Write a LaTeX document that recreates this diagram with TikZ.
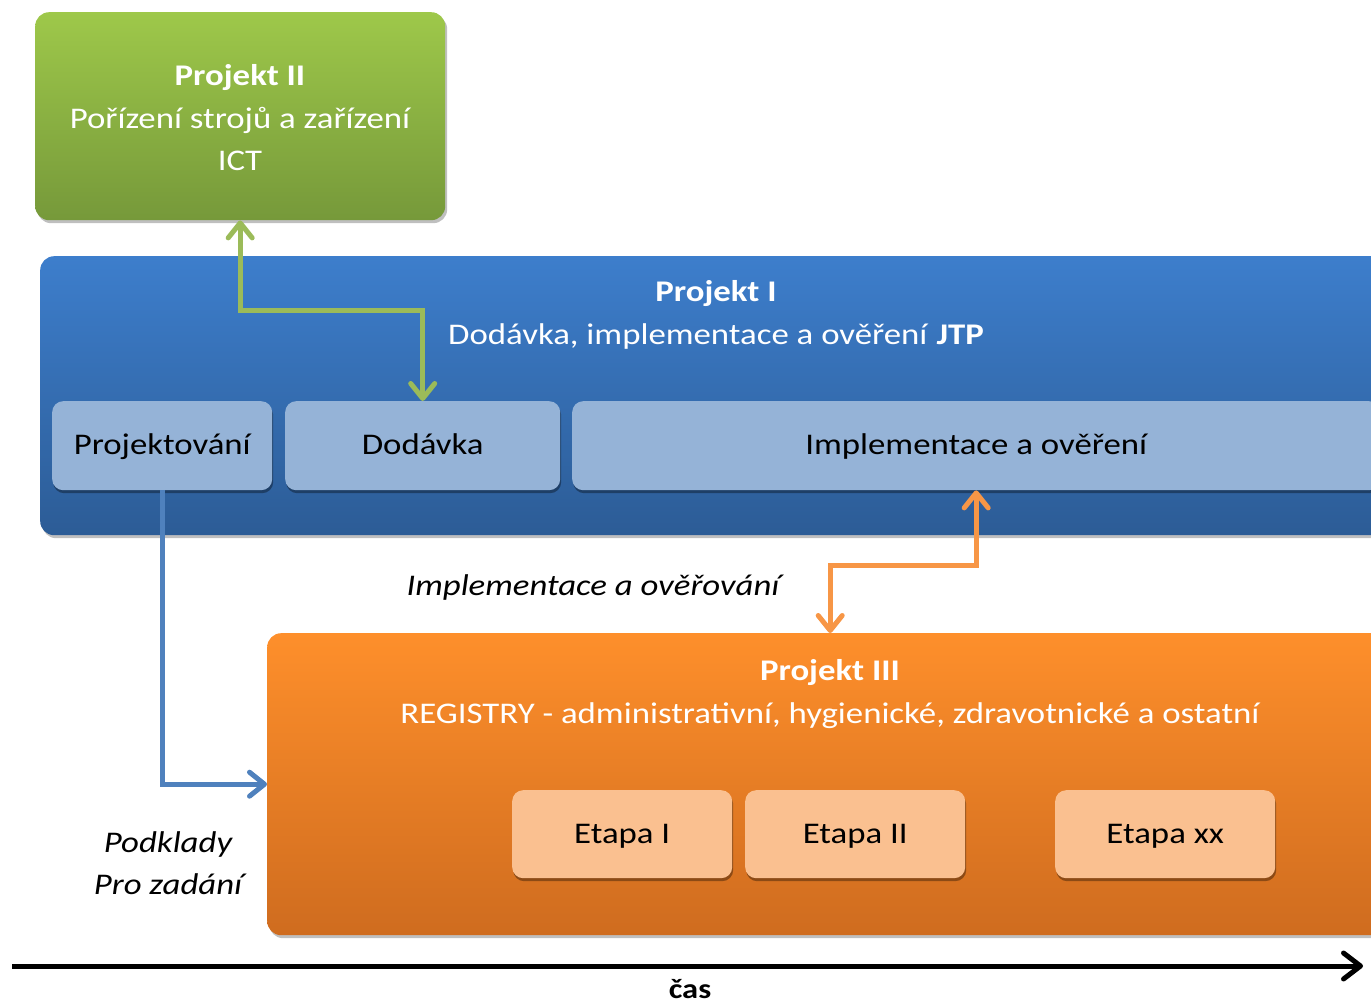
\documentclass[tikz,border=0pt]{standalone}
\usepackage{fontspec}
\setmainfont{Carlito}[FakeStretch=1.16]
\usetikzlibrary{arrows.meta,shadows}
\definecolor{grnT}{HTML}{9EC84A}
\definecolor{grnB}{HTML}{76993A}
\definecolor{bluT}{HTML}{3D7ECC}
\definecolor{bluB}{HTML}{2C5C96}
\definecolor{lblu}{HTML}{95B3D7}
\definecolor{orT}{HTML}{FE8F2B}
\definecolor{orB}{HTML}{CF6C1F}
\definecolor{lor}{HTML}{FAC090}
\definecolor{grnA}{HTML}{9BBB59}
\definecolor{orA}{HTML}{F79646}
\definecolor{bluA}{HTML}{4F81BD}
\begin{document}
\begin{tikzpicture}[x=1pt,y=-1pt,
  box/.style={rectangle, rounded corners=14pt, anchor=north west, inner sep=0pt,
    drop shadow={shadow xshift=2pt, shadow yshift=-3pt, opacity=0.25, fill=black}},
  sub/.style={rectangle, rounded corners=11pt, anchor=north west, inner sep=0pt,
    minimum height=89pt, text height=22pt, text depth=4pt, text=black, font=\fontsize{30}{36}\selectfont,
    drop shadow={shadow xshift=1pt, shadow yshift=-3pt, opacity=0.35, fill=black}},
  title/.style={align=center, text=white, font=\fontsize{30}{42.5}\selectfont},
  lbl/.style={align=center, text=black, font=\itshape\fontsize{30}{42}\selectfont},
  tipA/.tip={Straight Barb[round,length=15pt,width=24pt]},
  conn/.style={line width=5pt, line join=miter, arrows={tipA-tipA}},
]
\useasboundingbox (0,0) rectangle (1371,1003);
\clip (0,0) rectangle (1371,1003);

% Projekt II
\node[box, top color=grnT, bottom color=grnB, minimum width=410pt, minimum height=208pt] (p2) at (35,12) {};
\node[title] (p2t) at (240,118) {\textbf{Projekt II}\\Pořízení strojů a zařízení\\ICT};

% Projekt I
\node[box, top color=bluT, bottom color=bluB, minimum width=1420pt, minimum height=279pt] (p1) at (40,256) {};
\node[title] (p1t) at (716,315) {\textbf{Projekt I}\\Dodávka, implementace a ověření \textbf{JTP}};
\node[sub, fill=lblu, minimum width=220pt] (proj) at (52,401) {Projektování};
\node[sub, fill=lblu, minimum width=275pt] (dod) at (285,401) {Dodávka};
\node[sub, fill=lblu, minimum width=808pt] (impl) at (572,401) {Implementace a ověření};

% Projekt III
\node[box, top color=orT, bottom color=orB, minimum width=1126pt, minimum height=302pt] (p3) at (267,633) {};
\node[title] (p3t) at (830,694) {\textbf{Projekt III}\\REGISTRY - administrativní, hygienické, zdravotnické a ostatní};
\node[sub, fill=lor, minimum width=220pt, minimum height=88pt] (e1) at (512,790) {Etapa I};
\node[sub, fill=lor, minimum width=220pt, minimum height=88pt] (e2) at (745,790) {Etapa II};
\node[sub, fill=lor, minimum width=220pt, minimum height=88pt] (ex) at (1055,790) {Etapa xx};

% connectors
\draw[conn, draw=grnA] (p2.south) -- ++(0,90) -| (dod.north);
\draw[conn, draw=orA] (impl.south) -- ++(0,75) -| (p3.north);
\draw[conn, draw=bluA, arrows=-tipA] (proj.south) |- (p3.west);

% labels
\node[lbl] (limpl) at (593,587) {Implementace a ověřování};
\node[lbl] (lpod) at (168,863) {Podklady\\Pro zadání};

% time axis
\coordinate (t0) at (12,966);
\coordinate (t1) at (1363,966);
\draw[line width=5pt, -{Straight Barb[round,length=17pt,width=26pt]}] (t0) -- (t1);
\node[font=\bfseries\fontsize{28}{30}\selectfont] (cas) at (690,989) {čas};
\end{tikzpicture}
\end{document}
